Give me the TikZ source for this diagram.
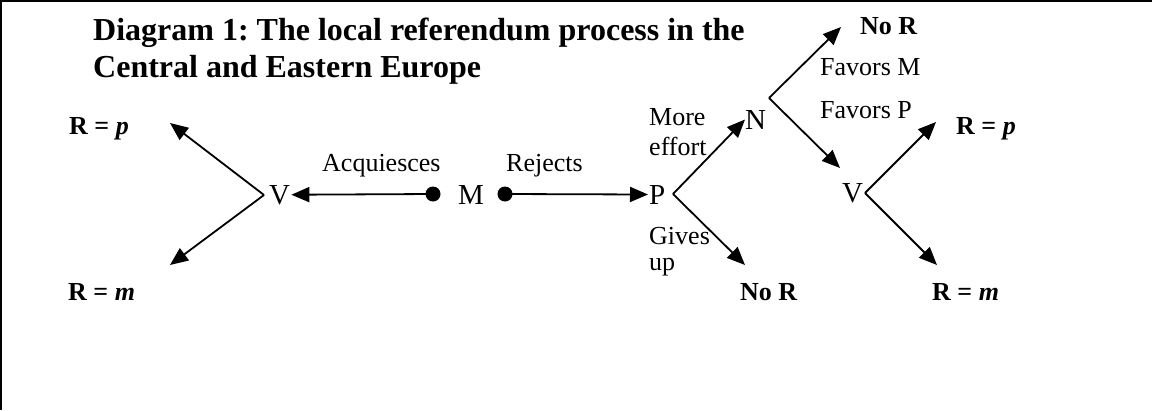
\documentclass[tikz,border=0pt]{standalone}
\usepackage{fontspec}
\setmainfont{Liberation Serif}
\usetikzlibrary{arrows.meta}
\frenchspacing
\begin{document}
\begin{tikzpicture}[x=1pt,y=-1pt,
  lbl/.style={anchor=base west, inner sep=0pt, font=\fontsize{26}{30}\selectfont},
  let/.style={anchor=base west, inner sep=0pt, font=\fontsize{29}{33}\selectfont},
  res/.style={anchor=base west, inner sep=0pt, font=\fontsize{26}{30}\selectfont\bfseries},
  ttl/.style={anchor=base west, inner sep=0pt, font=\fontsize{32}{37}\selectfont\bfseries},
  arr/.style={line width=1.8pt, -{Triangle[length=18pt,width=15pt]}},
  dotnode/.style={circle, fill, inner sep=0pt, minimum size=15pt},
  frame/.style={line width=2pt}]
\useasboundingbox (0,0) rectangle (1152,410);
\fill[white] (0,0) rectangle (1152,410);
\draw[frame] (0,1) -- (1152,1);
\draw[frame] (1,0) -- (1,410);

% title
\node[ttl] (t1) at (93,40) {Diagram 1: The local referendum process in the};
\node[ttl] (t2) at (93,77) {Central and Eastern Europe};

% left voter branch
\node[res] (rpl) at (69,134) {R = \textit{p}};
\node[res] (rml) at (68,300) {R = \textit{m}};
\node[let, inner sep=1pt] (vl) at (268,204) {V};
\coordinate (vlv) at (264,195);
\coordinate (tlp) at (170,123);
\coordinate (tlm) at (170,265);
\draw[arr] (vlv) -- (tlp);
\draw[arr] (vlv) -- (tlm);

% M
\node[dotnode] (d1) at (433,194) {};
\node[let] (m) at (458,204) {M};
\node[dotnode] (d2) at (505,194) {};
\node[lbl] (acq) at (322,171) {Acquiesces};
\node[lbl] (rej) at (506,171) {Rejects};
\draw[arr] (d1.center) -- (vl.east);

% P
\node[let, inner sep=1pt] (p) at (648,204) {P};
\draw[arr] (d2.center) -- (p.west);
\coordinate (pv) at (673,194);
\node[lbl] (more) at (649,125) {More};
\node[lbl] (eff) at (649,155) {effort};
\node[lbl] (giv) at (649,244) {Gives};
\node[lbl] (up) at (649,270) {up};
\node[let] (n) at (745,129) {N};
\draw[arr] (pv) -- (n.west);
\coordinate (gtip) at (745,265);
\node[res] (nor1) at (740,300) {No R};
\draw[arr] (pv) -- (gtip);

% N
\coordinate (nv) at (769,98);
\coordinate (nrtip) at (841,27);
\node[res] (nor2) at (860,34) {No R};
\draw[arr] (nv) -- (nrtip);
\node[lbl] (fm) at (820,75) {Favors M};
\node[lbl] (fp) at (820,118) {Favors P};
\node[let] (vr) at (842,202) {V};
\coordinate (vrtip) at (840,168);
\draw[arr] (nv) -- (vrtip);

% right voter branch
\coordinate (vrv) at (865,193);
\coordinate (rptip) at (936,122);
\node[res] (rpr) at (956,134) {R = \textit{p}};
\coordinate (rmtip) at (937,265);
\node[res] (rmr) at (932,300) {R = \textit{m}};
\draw[arr] (vrv) -- (rptip);
\draw[arr] (vrv) -- (rmtip);
\end{tikzpicture}
\end{document}
